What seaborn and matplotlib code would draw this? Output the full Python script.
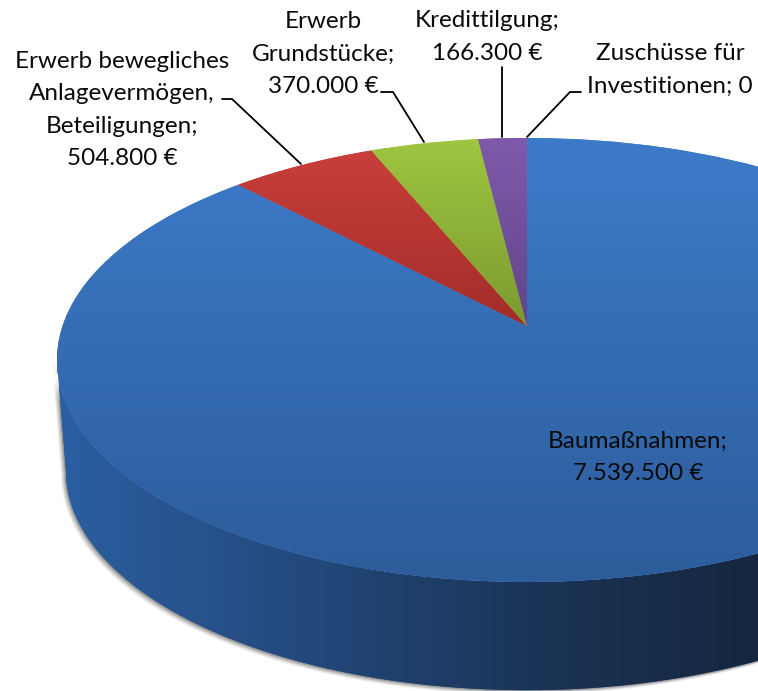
import numpy as np
import matplotlib
matplotlib.use("Agg")
import matplotlib.pyplot as plt
from matplotlib.colors import LinearSegmentedColormap
from matplotlib.patches import PathPatch
from matplotlib.path import Path
from matplotlib.transforms import Transform
import seaborn as sns

# ---- data ----
categories = ["Baumaßnahmen", "Erwerb bewegliches Anlagevermögen, Beteiligungen",
              "Erwerb Grundstücke", "Kredittilgung", "Zuschüsse für Investitionen"]
values = [7539500, 504800, 370000, 166300, 0]
label_texts = ["Baumaßnahmen;\n7.539.500 €",
               "Erwerb bewegliches\nAnlagevermögen,\nBeteiligungen;\n504.800 €",
               "Erwerb\nGrundstücke;\n370.000 €",
               "Kredittilgung;\n166.300 €",
               "Zuschüsse für\nInvestitionen; 0"]
label_x = [638, 122, 323, 487, 670]
label_y = [457, 110, 54, 37, 70]
leader_x = [None, [222, 232, 301], [381, 393, 424], [502, 502], [581, 570, 527]]
leader_y = [None, [99, 99, 164], [92, 92, 142], [67, 137], [92, 92, 137]]
top_colors = [("#3d7bca", "#2c5c9a"), ("#cb403b", "#a22d2a"), ("#9fc640", "#7c9a30"),
              ("#8059aa", "#62458a"), ("#3d7bca", "#2c5c9a")]
wall_stops = [0.0, 0.18, 0.466, 0.673, 1.0]
wall_colors = ["#2b60a3", "#28548f", "#204270", "#1b3558", "#15263e"]

sns.set_theme(style="white")
plt.rcParams["font.family"] = ["Lato", "DejaVu Sans"]


class DiskProjection(Transform):
    """Perspective view of the unit disk, in pixel-like axes coordinates."""
    input_dims = output_dims = 2

    def __init__(self, x0, y0, a, b, k):
        super().__init__()
        self.p = (x0, y0, a, b, k)

    def transform_non_affine(self, xy):
        x0, y0, a, b, k = self.p
        xy = np.asarray(xy, float)
        w = 1 + k * xy[:, 1]
        return np.column_stack([x0 + a * xy[:, 0] / w, y0 - b * xy[:, 1] / w])


persp = 0.153
top_disk = DiskProjection(527, 326, 464.5, 216.8, persp)
low_disk = DiskProjection(527, 437.5, 455.6, 214, persp)

fig = plt.figure(figsize=(7.58, 6.91), dpi=100)
ax = fig.add_axes([0, 0, 1, 1])
palette = sns.color_palette([c[0] for c in top_colors])
wedges, _ = ax.pie(values, startangle=90, counterclock=False, radius=1,
                   colors=palette, wedgeprops={"linewidth": 0})
ax.set_aspect("auto")

# side wall and its soft shadow: from the silhouette's leftmost point round the front
left_angle = 180 + np.degrees(np.arcsin(persp))
theta = np.radians(np.linspace(left_angle, 375, 400))
ring = np.column_stack([np.cos(theta), np.sin(theta)])
upper = top_disk.transform(ring)
lower = low_disk.transform(ring)
outline = np.vstack([upper, lower[::-1], upper[:1]])
for off, alpha in zip([6, 4.5, 3, 1.5], [0.07, 0.10, 0.14, 0.18]):
    ax.add_patch(PathPatch(Path(outline + [-off * 0.8, off * 0.7]), fc="#000000", ec="none",
                           alpha=alpha, zorder=1))
wall_patch = PathPatch(Path(outline), fc="#224472", ec="none", zorder=2)
ax.add_patch(wall_patch)
wall_cmap = LinearSegmentedColormap.from_list("wall", list(zip(wall_stops, wall_colors)))
wall_img = ax.imshow(np.linspace(0, 1, 256)[None, :], cmap=wall_cmap, aspect="auto",
                     extent=[50, 758, 691, 0], zorder=2.1)
wall_img.set_clip_path(wall_patch)

# top face
for wedge, (c_top, c_low), val in zip(wedges, top_colors, values):
    wedge.set_transform(top_disk + ax.transData)
    wedge.set_zorder(3)
    if val == 0:
        continue
    if c_top == top_colors[0][0]:
        y_a, y_b = 138, 582
    else:
        y_a, y_b = 138, 326
    cmap = LinearSegmentedColormap.from_list("f", [c_top, c_low])
    img = ax.imshow(np.linspace(0, 1, 256)[:, None], cmap=cmap, aspect="auto",
                    extent=[0, 758, y_b, y_a], zorder=3.1)
    img.set_clip_path(wedge)

# labels and leader lines
for txt, lx, ly, xs, ys in zip(label_texts, label_x, label_y, leader_x, leader_y):
    ax.text(lx, ly, txt, ha="center", va="center", fontsize=17.5, color="#0a0a0a",
            linespacing=1.66, zorder=6)
    if xs is not None:
        ax.plot(xs, ys, color="black", lw=1.3, zorder=5, solid_joinstyle="miter")

ax.set_xlim(0, 758)
ax.set_ylim(691, 0)
ax.axis("off")
fig.savefig("out.png", dpi=100, facecolor="white")
